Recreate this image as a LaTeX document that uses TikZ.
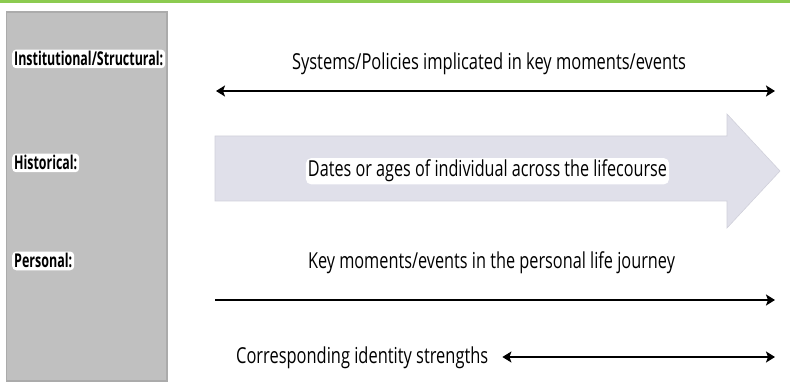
\documentclass[tikz,border=0pt]{standalone}
\usepackage{fontspec}
\usepackage{graphicx}
\setmainfont{Open Sans}
\usetikzlibrary{arrows.meta}
\definecolor{topgreen}{HTML}{8CCB50}
\definecolor{panelgray}{HTML}{C0C0C0}
\definecolor{paneledge}{HTML}{ABABAB}
\definecolor{lavender}{HTML}{E0E0EA}
\definecolor{lavedge}{HTML}{D0D0DA}
\newcommand{\fitw}[2]{\resizebox{#1}{\height}{#2}}
\tikzset{
  rowlabel/.style={anchor=base west, fill=white, rounded corners=4pt, inner sep=2pt,
    font=\fontsize{19}{21}\selectfont\bfseries},
  captext/.style={anchor=base, inner sep=2pt, font=\fontsize{22}{26}\selectfont},
  halotext/.style={captext, fill=white, rounded corners=5pt},
  timeline/.style={line width=2.8pt, black, >={Stealth[length=9pt,width=11pt,inset=2pt]}}
}
\begin{document}
\begin{tikzpicture}[x=1pt,y=-1pt]
\useasboundingbox (0,0) rectangle (790,382);
% top green rule
\fill[topgreen] (0,0) rectangle (790,2.8);
% left panel
\filldraw[fill=panelgray, draw=paneledge, line width=1.2pt] (6.5,12) rectangle (167,381);
\node[rowlabel] (inst) at (12,66) {\fitw{149pt}{Institutional/Structural:}};
\node[rowlabel] (hist) at (12,170) {\fitw{63pt}{Historical:}};
\node[rowlabel] (pers) at (12,268) {\fitw{58pt}{Personal:}};
% institutional row
\node[captext] (systxt) at (489,70) {\fitw{394pt}{Systems/Policies implicated in key moments/events}};
\coordinate (sysL) at (216,91);
\coordinate (sysR) at (775,91);
\draw[timeline, <->] (sysL) -- (sysR);
% historical big arrow
\filldraw[fill=lavender, draw=lavedge, line width=0.6pt]
  (215,136) -- (727,136) -- (727,114) -- (780,171) -- (727,228) -- (727,201) -- (215,201) -- cycle;
\node[halotext] (dates) at (487.5,177) {\fitw{359pt}{Dates or ages of individual across the lifecourse}};
% personal row
\node[captext] (keytxt) at (491.5,269) {\fitw{367pt}{Key moments/events in the personal life journey}};
\coordinate (perL) at (215,300);
\coordinate (perR) at (775,300);
\draw[timeline, ->] (perL) -- (perR);
% identity strengths
\node[captext, anchor=base west] (idtxt) at (234,363) {\fitw{252pt}{Corresponding identity strengths}};
\coordinate (idR) at (775,357);
\draw[timeline, <->] ([xshift=12pt]idtxt.east |- idR) -- (idR);
\end{tikzpicture}
\end{document}
